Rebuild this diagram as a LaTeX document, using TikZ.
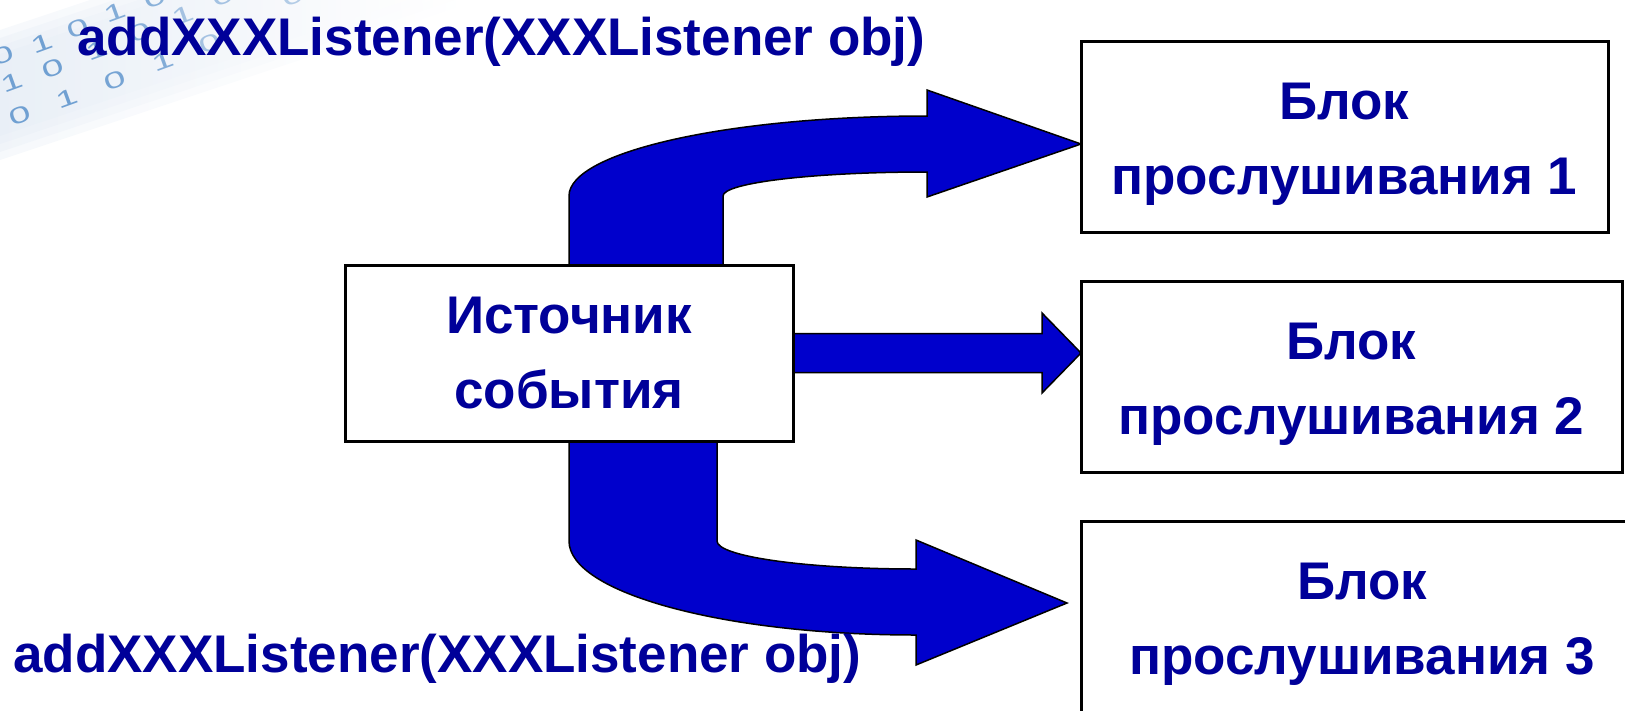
\documentclass[tikz,border=0pt]{standalone}
\usepackage{fontspec}
\setmainfont{Liberation Sans}
\usetikzlibrary{calc,backgrounds}
\definecolor{txtblue}{RGB}{0,0,153}
\definecolor{arrowblue}{RGB}{0,0,204}
\definecolor{bitblue}{RGB}{112,160,210}
\definecolor{bandgray}{RGB}{226,234,244}

\begin{document}
\begin{tikzpicture}[x=1pt,y=-1pt,
  lbl/.style={font=\fontsize{53}{75}\selectfont\bfseries, text=txtblue, inner sep=0pt},
  box/.style={draw=black, line width=3pt, fill=white, inner sep=0pt, outer sep=0pt,
    align=center, font=\fontsize{53}{75}\selectfont\bfseries, text=txtblue},
  blockarrow/.style={fill=arrowblue, draw=black, line width=1.5pt, line join=miter},
  bit/.style={font=\fontsize{23}{23}\selectfont, text=bitblue, rotate=20, xscale=1.7, inner sep=0pt}]

\useasboundingbox (0,0) rectangle (1625,710);

% event source and the three listener blocks
\node[box, minimum width=448pt, minimum height=176pt] (src) at (569,353) {Источник\\события};
\node[box, minimum width=527pt, minimum height=191pt] (b1) at (1344.5,136.5) {\rule{0pt}{51pt}Блок\\прослушивания 1};
\node[box, minimum width=541pt, minimum height=191pt] (b2) at (1351.5,376.5) {\rule{0pt}{51pt}Блок\\прослушивания 2};
\node[box, minimum width=562pt, minimum height=191pt] (b3) at (1362,616.5) {\rule{0pt}{51pt}Блок\\прослушивания 3};

% registration calls
\node[lbl, anchor=base west] (topcall) at (77,55) {addXXXListener(XXXListener obj)};
\node[lbl, anchor=base west] (botcall) at (13,672) {addXXXListener(XXXListener obj)};

% arrow tips
\coordinate (tip1) at ($(b1.west)+(0,7.5)$);
\coordinate (tip2) at (b2.west |- src.east);
\coordinate (tip3) at ($(b3.west)+(-14,-13.5)$);

\begin{scope}[on background layer]
  % faded binary strip in the corner, soft-edged by stacking
  \foreach \s in {0,8,16,24}
    \shade[left color=bandgray, right color=white, opacity=0.3]
      (0,{30+\s}) -- ({90+3*\s},0) -- ({480-3*\s},0) -- (0,{160-\s}) -- cycle;
  \foreach \d/\x/\y/\o in {0/3/55/1, 1/42/43/1, 0/78/28/0.9, 1/115/12/0.85, 0/155/-2/0.8, 0/223/-4/0.6, 0/293/-4/0.5,
                           1/12/82/1, 0/53/68/1, 1/97/50/0.9, 0/140/32/0.8, 1/183/15/0.6,
                           0/20/115/1, 1/67/98/1, 0/115/80/0.95, 1/163/61/0.85, 0/210/43/0.6}
    \node[bit, opacity=\o] (bit-\x-\y) at (\x,\y) {\d};

  % upper bent arrow to listener 1
  \filldraw[blockarrow] (src.north) -- (569,196)
    .. controls (569,151.8) and (729.3,116) .. (927,116)
    -- (927,90) -- (tip1) -- (927,197) -- (927,172)
    .. controls (814.3,172) and (723,182.7) .. (723,196)
    -- (723,265) -- cycle;

  % straight arrow to listener 2
  \filldraw[blockarrow] ($(src.east)+(0,-19.5)$) -- (1042,333.5) -- (1042,313)
    -- (tip2) -- (1042,393) -- (1042,372.5) -- ($(src.east)+(0,19.5)$) -- cycle;

  % lower bent arrow to listener 3
  \filldraw[blockarrow] (src.south) -- (569,541)
    .. controls (569,592.9) and (724.4,635) .. (916,635)
    -- (916,665) -- (tip3) -- (916,540) -- (916,569)
    .. controls (806.1,569) and (717,556.5) .. (717,541)
    -- (717,441) -- cycle;
\end{scope}
\end{tikzpicture}
\end{document}
